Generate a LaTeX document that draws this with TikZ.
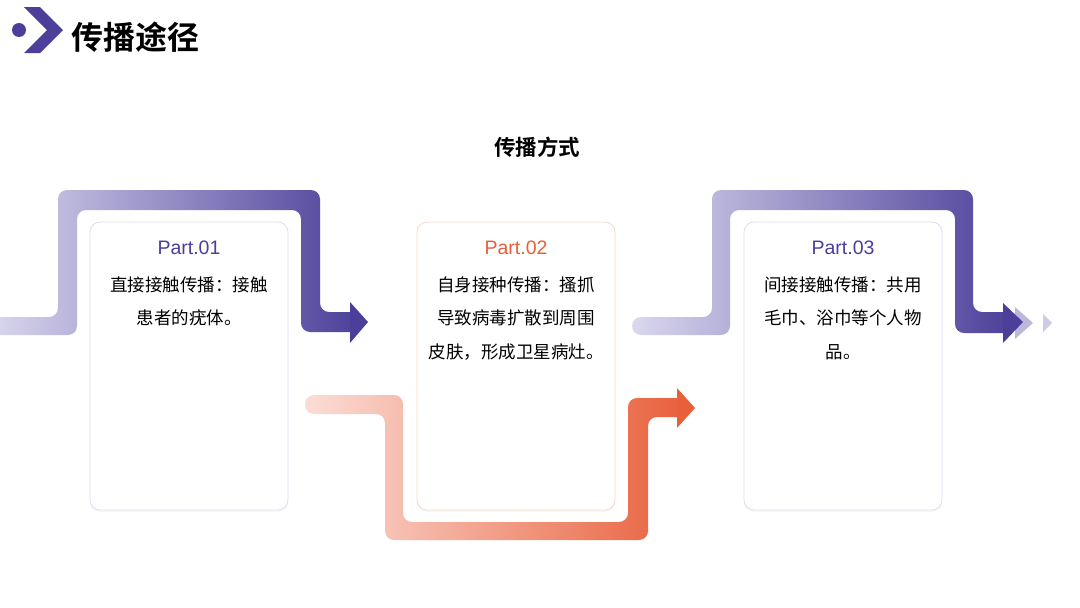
\documentclass[tikz,border=0pt]{standalone}
\usepackage{fontspec}
\usepackage{xcolor}
\usetikzlibrary{positioning, shadows}
\setsansfont{Liberation Sans}
\newfontfamily\cjk{Noto Sans CJK SC}[BoldFont={Noto Sans CJK SC Bold}]

\definecolor{purpleDark}{HTML}{4B3F99}
\definecolor{purpleLight}{HTML}{DAD7EE}
\definecolor{purpleMid}{HTML}{BDB7DC}
\definecolor{purplePale}{HTML}{CFCBE6}
\definecolor{orangeDark}{HTML}{E85F3A}
\definecolor{orangeLight}{HTML}{FBDDD6}
\definecolor{cardLine}{HTML}{DEDBF0}
\definecolor{cardLineOrange}{HTML}{F8D6CC}

\begin{document}
\begin{tikzpicture}[
  x=1pt, y=-1pt,
  card/.style={draw=cardLine, line width=0.8pt, fill=white, rounded corners=10pt,
    minimum width=198pt, minimum height=288pt, inner sep=0pt,
    drop shadow={shadow xshift=0pt, shadow yshift=-2pt, opacity=0.06}},
  parthead/.style={font=\sffamily\fontsize{19.5}{22}\selectfont, inner sep=0pt},
  cardtext/.style={font=\cjk\fontsize{17.5}{33.5}\selectfont, align=center, inner sep=0pt},
]
\useasboundingbox (0,0) rectangle (1080,608);

% --- Header ---
\fill[purpleDark] (19,30) circle (7);
\fill[purpleDark] (24,7) -- (40,7) -- (63,30) -- (40,53) -- (24,53) -- (47,30) -- cycle;
\node[font=\cjk\bfseries\fontsize{32}{36}\selectfont, anchor=west, inner sep=0pt] (title) at (71,37) {传播途径};
\node[font=\cjk\bfseries\fontsize{21.5}{24}\selectfont, inner sep=0pt] (subtitle) at (537,147) {传播方式};

% --- Path 1 ---
\shade[left color=purpleLight, right color=purpleDark, rounded corners=9pt]
  (-10,317) -- (58,317) -- (58,190) -- (320,190) -- (320,312) -- (360,312)
  -- (360,332) -- (301,332) -- (301,210) -- (77,210) -- (77,335) -- (-10,335) -- cycle;
\fill[purpleDark] (350,302) -- (368,322) -- (350,343) -- cycle;

% --- Path 2 ---
\shade[left color=orangeLight, right color=orangeDark, rounded corners=9pt]
  (305,395) -- (403,395) -- (403,522) -- (628,522) -- (628,398) -- (687,398)
  -- (687,417) -- (648,417) -- (648,540) -- (385,540) -- (385,414) -- (305,414) -- cycle;
\fill[orangeDark] (677,388) -- (695,408) -- (677,428) -- cycle;

% --- Path 3 ---
\fill[purplePale] (1043,314) -- (1052,323) -- (1043,332) -- cycle;
\fill[purpleMid] (1015,307) -- (1033,323) -- (1015,339) -- cycle;
\shade[left color=purpleLight, right color=purpleDark, rounded corners=9pt]
  (632,317) -- (712,317) -- (712,190) -- (973,190) -- (973,312) -- (1013,312)
  -- (1013,333) -- (955,333) -- (955,210) -- (730,210) -- (730,335) -- (632,335) -- cycle;
\fill[purpleDark] (1003,303) -- (1023,322) -- (1003,343) -- cycle;

% --- Cards ---
\node[card] (card1) at (189,366) {};
\node[card, draw=cardLineOrange] (card2) at (516,366) {};
\node[card] (card3) at (843,366) {};

\node[parthead, purpleDark] (part1) at (189,248) {Part.01};
\node[parthead, orangeDark] (part2) at (516,248) {Part.02};
\node[parthead, purpleDark] (part3) at (843,248) {Part.03};

\node[cardtext, below=21pt of part1] (text1) {直接接触传播：接触\\患者的疣体。};
\node[cardtext, below=21pt of part2] (text2) {自身接种传播：搔抓\\导致病毒扩散到周围\\皮肤，形成卫星病灶。};
\node[cardtext, below=21pt of part3] (text3) {间接接触传播：共用\\毛巾、浴巾等个人物\\品。};

\end{tikzpicture}
\end{document}
